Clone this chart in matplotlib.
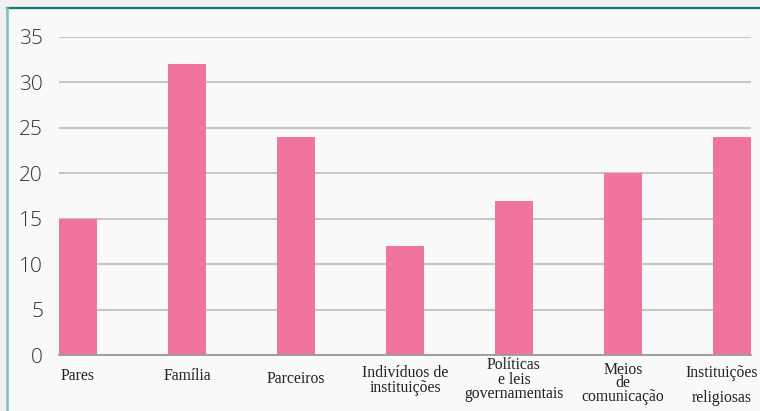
import matplotlib.pyplot as plt
from matplotlib.patches import Rectangle
from matplotlib.lines import Line2D
from matplotlib.transforms import blended_transform_factory

categories = ["Pares", "Família", "Parceiros", "Indivíduos de\ninstituições",
              "Políticas\ne leis\ngovernamentais", "Meios\nde\ncomunicação",
              "Instituições\n\nreligiosas"]
values = [15, 32, 24, 12, 17, 20, 24]
# vertical offset (pixels below the baseline) of each category label
label_offsets = [7, 7, 10, 4, -4, 1, 4]
label_spacing = [0.9, 0.9, 0.9, 0.88, 0.88, 0.78, 0.72]

W, H = 760, 411
fig = plt.figure(figsize=(W / 100, H / 100), dpi=100, facecolor="#f1f1f1")

# card background and its teal edges
fig.patches.append(Rectangle((7 / W, 0), 1 - 7 / W, 1 - 8 / H, transform=fig.transFigure,
                             facecolor="#f9f9f9", edgecolor="none", zorder=-10))
fig.lines.append(Line2D([7 / W, 1], [1 - 8 / H, 1 - 8 / H], transform=fig.transFigure,
                        color="#137a72", lw=1.6, zorder=-5))
fig.lines.append(Line2D([7 / W, 7 / W], [0, 1 - 8 / H], transform=fig.transFigure,
                        color="#7fbcbb", lw=1.8, zorder=-5))

ax = fig.add_axes([59 / W, (H - 355) / H, 692 / W, 318 / H])
ax.set_facecolor("none")

width = 0.35
x = list(range(len(categories)))
ax.bar(x, values, width=width, color="#f0749b", zorder=2)

ax.set_xlim(-width / 2, len(categories) - 1 + width / 2)
ax.set_ylim(0, 35)
ax.set_yticks(range(0, 36, 5))
ax.yaxis.grid(True, color="#c6c6c6", lw=1.5, zorder=0)
ax.set_axisbelow(True)
for s in ["top", "right", "left"]:
    ax.spines[s].set_visible(False)
ax.spines["bottom"].set_color("#9a9a9a")
ax.spines["bottom"].set_linewidth(1.3)
ax.tick_params(axis="y", length=0, pad=11.5, labelsize=15, labelcolor="#333333")
for lbl in ax.get_yticklabels():
    lbl.set_fontfamily("Open Sans")
    lbl.set_fontweight("light")
ax.set_xticks([])

trans = blended_transform_factory(ax.transData, ax.transAxes)
for xi, name, off, sp in zip(x, categories, label_offsets, label_spacing):
    ax.annotate(name, xy=(xi, 0), xycoords=trans, xytext=(-10 if xi == 6 else 0, -6 - off),
                textcoords="offset pixels", ha="center", va="top",
                family="Liberation Serif", fontsize=11.3, color="#222222",
                linespacing=sp)

fig.savefig("out.png", dpi=100, facecolor=fig.get_facecolor())
